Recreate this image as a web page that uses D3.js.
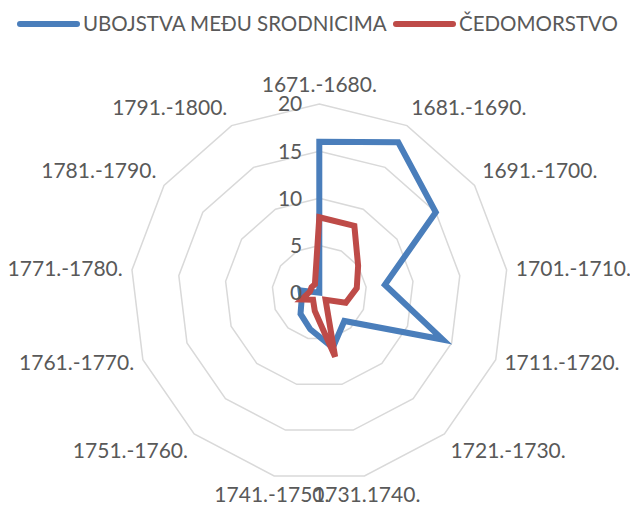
<!DOCTYPE html>
<html>
<head>
<meta charset="utf-8">
<script src="https://cdn.jsdelivr.net/npm/d3@7"></script>
<style>
  body { margin: 0; background: #fff; }
  text { font-family: Lato, "Open Sans", sans-serif; fill: #595959; }
</style>
</head>
<body>
<div id="chart"></div>
<script>
var width = 630;
var height = 509;

var decades = ["1671.-1680.", "1681.-1690.", "1691.-1700.", "1701.-1710.", "1711.-1720.",
               "1721.-1730.", "1731.1740.", "1741.-1750.", "1751.-1760.", "1761.-1770.",
               "1771.-1780.", "1781.-1790.", "1791.-1800."];
var ubojstva = [16, 18, 15, 7, 14, 4, 6, 4, 3, 2, 2, 0, 0];
var cedomorstvo = [8, 8, 5, 4, 3, 1, 7, 2, 1, 2, 1, 1, 1];
var ticks = [0, 5, 10, 15, 20];

var seriesNames = ["UBOJSTVA MEĐU SRODNICIMA", "ČEDOMORSTVO"];
var seriesColors = ["#4A7EBB", "#BE4B48"];

var cx = 319.3, cy = 292.7, R = 188.7;

var svg = d3.select("#chart")
            .append("svg")
            .attr("width", width)
            .attr("height", height);

var r = d3.scaleLinear().domain([0, 20]).range([0, R]);
var angle = d3.scaleLinear().domain([0, decades.length]).range([0, 2 * Math.PI]);

var g = svg.append("g").attr("transform", "translate(" + cx + "," + cy + ")");

// rings
ticks.slice(1).forEach(function(t) {
    var ring = d3.lineRadial()
        .angle(function(d, i) { return angle(i); })
        .radius(function() { return r(t); })
        .curve(d3.curveLinearClosed);
    g.append("path")
        .attr("d", ring(decades))
        .attr("fill", "none")
        .attr("stroke", "#D9D9D9")
        .attr("stroke-width", 1.5);
});

// series
var line = d3.lineRadial()
    .angle(function(d, i) { return angle(i); })
    .radius(function(d) { return r(d); })
    .curve(d3.curveLinearClosed);

[ubojstva, cedomorstvo].forEach(function(vals, k) {
    g.append("path")
        .attr("d", line(vals))
        .attr("fill", "none")
        .attr("stroke", seriesColors[k])
        .attr("stroke-width", 6);
});

// category labels
var D = 198;
g.selectAll(".cat")
    .data(decades)
    .enter()
    .append("text")
    .attr("class", "cat")
    .style("font-size", "21px")
    .attr("x", function(d, i) { return D * Math.sin(angle(i)); })
    .attr("y", function(d, i) {
        var c = Math.cos(angle(i));
        var y = -D * c;
        if (c > 0.5) return y - 10;
        if (c < -0.5) return y + 10;
        return y;
    })
    .attr("dy", "0.35em")
    .attr("text-anchor", function(d, i) {
        var s = Math.sin(angle(i));
        if (s > 0.3) return "start";
        if (s < -0.3) return "end";
        return "middle";
    })
    .text(function(d) { return d; });

// radial tick labels
g.selectAll(".tick")
    .data(ticks)
    .enter()
    .append("text")
    .attr("class", "tick")
    .style("font-size", "21px")
    .attr("x", -17)
    .attr("y", function(d) { return -r(d); })
    .attr("dy", "0.35em")
    .attr("text-anchor", "end")
    .text(function(d) { return d; });

// legend
var legendX = [20, 396];
seriesNames.forEach(function(name, k) {
    svg.append("line")
        .attr("x1", legendX[k]).attr("x2", legendX[k] + 57)
        .attr("y1", 24).attr("y2", 24)
        .attr("stroke", seriesColors[k])
        .attr("stroke-width", 6)
        .attr("stroke-linecap", "round");
    svg.append("text")
        .attr("x", legendX[k] + 63)
        .attr("y", 24)
        .attr("dy", "0.35em")
        .style("font-size", "20.5px")
        .text(name);
});
</script>
</body>
</html>
